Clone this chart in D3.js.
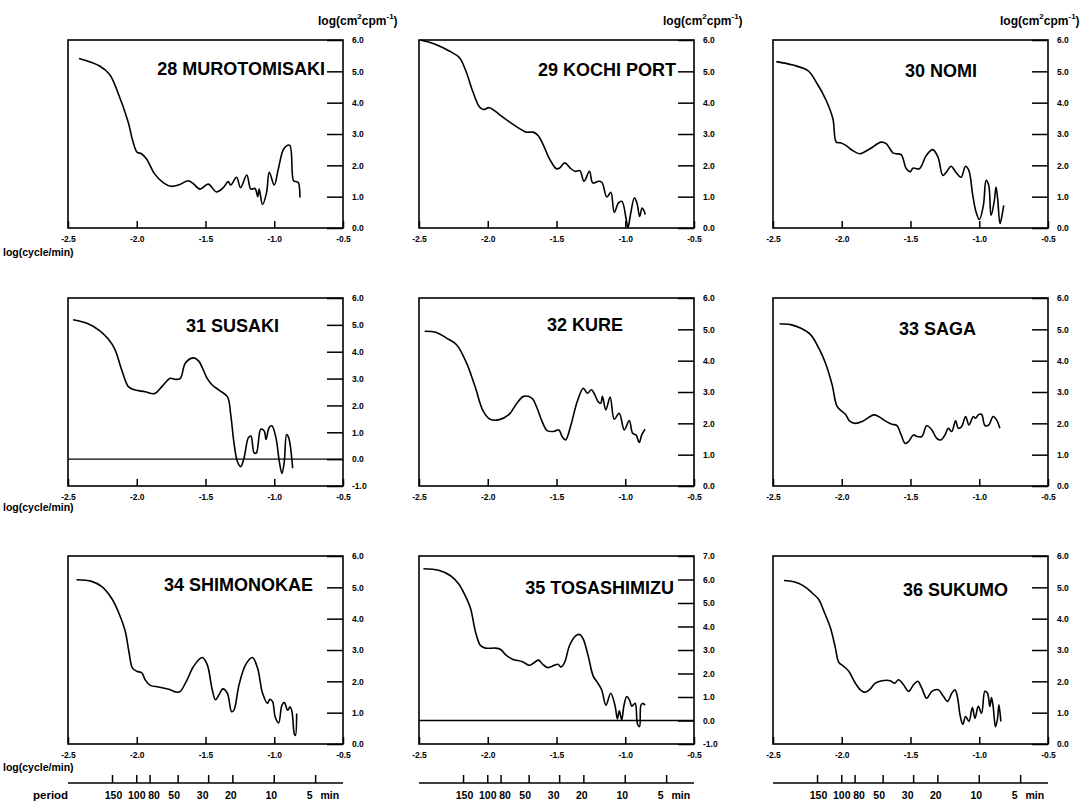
<!DOCTYPE html>
<html>
<head>
<meta charset="utf-8">
<script src="https://cdn.jsdelivr.net/npm/d3@7"></script>
<style>
body { margin: 0; background: #fff; }
svg text { font-family: "Liberation Sans", Arial, sans-serif; font-weight: bold; fill: #000; }
</style>
</head>
<body>
<div id="chart"></div>
<script>
const width = 1088;
const height = 802;

// station names and y ranges (log(cm^2 cpm^-1))
const stations = ["28 MUROTOMISAKI", "29 KOCHI PORT", "30 NOMI",
                  "31 SUSAKI", "32 KURE", "33 SAGA",
                  "34 SHIMONOKAE", "35 TOSASHIMIZU", "36 SUKUMO"];
const yDomains = [[0, 6], [0, 6], [0, 6],
                  [-1, 6], [0, 6], [0, 6],
                  [0, 6], [-1, 7], [0, 6]];
const xTicks = [-2.5, -2.0, -1.5, -1.0, -0.5];
const periods = [150, 100, 80, 50, 30, 20, 10, 5];

// spectra: [log(cycle/min), log(cm^2 cpm^-1)]
const curve28 = [[-2.42,5.41],[-2.27,5.17],[-2.197,4.9],[-2.136,4.31],[-2.063,3.39],[-2.027,2.75],[-1.998,2.42],[-1.966,2.37],[-1.93,2.21],[-1.869,1.72],[-1.808,1.45],[-1.748,1.33],[-1.687,1.39],[-1.626,1.51],[-1.59,1.42],[-1.54,1.24],[-1.48,1.4],[-1.42,1.15],[-1.37,1.29],[-1.335,1.48],[-1.316,1.37],[-1.274,1.62],[-1.245,1.29],[-1.2,1.69],[-1.17,1.24],[-1.14,1.26],[-1.12,1.0],[-1.11,1.24],[-1.085,0.75],[-1.056,1.13],[-1.036,1.78],[-1.0,1.37],[-0.97,1.89],[-0.93,2.53],[-0.888,2.64],[-0.86,1.51],[-0.84,1.48],[-0.825,1.45],[-0.813,0.97]];
const curve29 = [[-2.49,6.0],[-2.378,5.86],[-2.28,5.65],[-2.207,5.44],[-2.159,5.01],[-2.11,4.37],[-2.061,3.87],[-2.032,3.78],[-1.988,3.84],[-1.915,3.62],[-1.84,3.38],[-1.768,3.17],[-1.72,3.06],[-1.67,3.06],[-1.634,2.95],[-1.598,2.67],[-1.549,2.19],[-1.5,1.89],[-1.476,1.92],[-1.44,2.08],[-1.402,1.92],[-1.366,1.81],[-1.33,1.83],[-1.3,1.49],[-1.26,1.81],[-1.237,1.44],[-1.195,1.49],[-1.17,1.46],[-1.134,0.99],[-1.105,1.14],[-1.08,0.5],[-1.049,0.8],[-1.024,0.85],[-0.993,0.27],[-0.98,0.02],[-0.96,0.48],[-0.934,0.96],[-0.915,0.8],[-0.895,0.37],[-0.878,0.64],[-0.866,0.57],[-0.854,0.43]];
const curve30 = [[-2.476,5.31],[-2.355,5.2],[-2.246,5.02],[-2.185,4.65],[-2.113,4.07],[-2.064,3.48],[-2.04,2.74],[-2.01,2.72],[-1.967,2.63],[-1.92,2.47],[-1.87,2.37],[-1.798,2.52],[-1.713,2.74],[-1.677,2.69],[-1.628,2.4],[-1.604,2.37],[-1.568,2.34],[-1.53,1.89],[-1.5,1.8],[-1.483,1.91],[-1.435,1.89],[-1.386,2.31],[-1.338,2.5],[-1.3,2.26],[-1.265,1.68],[-1.24,1.78],[-1.205,1.97],[-1.17,1.78],[-1.132,1.62],[-1.1,1.97],[-1.076,1.84],[-1.047,1.04],[-1.023,0.51],[-0.999,0.27],[-0.97,0.72],[-0.95,1.52],[-0.931,1.36],[-0.914,0.4],[-0.89,0.88],[-0.878,1.31],[-0.866,0.93],[-0.849,0.14],[-0.83,0.51],[-0.822,0.72]];
const curve31 = [[-2.463,5.19],[-2.354,5.04],[-2.268,4.78],[-2.207,4.47],[-2.159,4.09],[-2.11,3.33],[-2.061,2.7],[-2.024,2.59],[-1.94,2.51],[-1.871,2.44],[-1.817,2.7],[-1.756,3.01],[-1.72,2.97],[-1.683,3.01],[-1.646,3.58],[-1.585,3.77],[-1.549,3.65],[-1.488,3.01],[-1.451,2.76],[-1.402,2.57],[-1.34,2.32],[-1.317,1.68],[-1.293,0.61],[-1.268,-0.09],[-1.244,-0.28],[-1.22,0.04],[-1.188,0.8],[-1.17,0.86],[-1.146,0.23],[-1.13,0.23],[-1.098,1.11],[-1.073,1.05],[-1.06,0.73],[-1.037,1.18],[-1.017,1.24],[-0.988,0.8],[-0.963,-0.09],[-0.944,-0.53],[-0.927,-0.09],[-0.91,0.92],[-0.895,0.8],[-0.866,-0.34]];
const curve32 = [[-2.459,4.94],[-2.373,4.9],[-2.3,4.72],[-2.227,4.51],[-2.154,3.92],[-2.093,3.18],[-2.032,2.38],[-1.983,2.13],[-1.922,2.11],[-1.849,2.27],[-1.788,2.64],[-1.739,2.86],[-1.678,2.8],[-1.641,2.48],[-1.605,2.06],[-1.568,1.77],[-1.52,1.74],[-1.483,1.79],[-1.459,1.58],[-1.434,1.47],[-1.398,1.9],[-1.349,2.7],[-1.305,3.12],[-1.276,2.96],[-1.246,3.07],[-1.227,2.96],[-1.198,2.7],[-1.178,2.64],[-1.166,2.86],[-1.141,2.43],[-1.11,2.84],[-1.08,2.13],[-1.044,2.32],[-1.007,1.79],[-0.971,2.09],[-0.946,1.68],[-0.922,1.63],[-0.898,1.39],[-0.88,1.63],[-0.856,1.81]];
const curve33 = [[-2.452,5.18],[-2.372,5.15],[-2.3,5.04],[-2.227,4.83],[-2.167,4.4],[-2.118,3.92],[-2.07,3.23],[-2.034,2.54],[-1.998,2.38],[-1.973,2.29],[-1.944,2.08],[-1.9,2.0],[-1.852,2.06],[-1.804,2.19],[-1.768,2.27],[-1.732,2.22],[-1.684,2.08],[-1.635,1.97],[-1.599,1.93],[-1.568,1.63],[-1.539,1.36],[-1.514,1.42],[-1.478,1.63],[-1.454,1.58],[-1.418,1.58],[-1.382,1.92],[-1.345,1.79],[-1.309,1.52],[-1.278,1.47],[-1.249,1.63],[-1.225,1.84],[-1.2,1.74],[-1.172,2.08],[-1.152,1.84],[-1.128,1.9],[-1.099,2.22],[-1.075,1.95],[-1.043,2.22],[-1.027,2.16],[-1.007,2.27],[-0.983,2.29],[-0.959,1.93],[-0.93,1.95],[-0.899,2.22],[-0.874,2.11],[-0.85,1.84]];
const curve34 = [[-2.439,5.24],[-2.329,5.19],[-2.256,5.03],[-2.183,4.65],[-2.134,4.22],[-2.085,3.62],[-2.056,2.92],[-2.032,2.43],[-2.0,2.32],[-1.963,2.27],[-1.939,2.05],[-1.902,1.87],[-1.841,1.82],[-1.768,1.75],[-1.707,1.65],[-1.683,1.68],[-1.634,2.05],[-1.585,2.49],[-1.524,2.76],[-1.488,2.54],[-1.451,1.73],[-1.427,1.41],[-1.402,1.57],[-1.373,1.76],[-1.341,1.62],[-1.31,1.03],[-1.293,1.08],[-1.256,1.89],[-1.207,2.54],[-1.159,2.76],[-1.122,2.43],[-1.085,1.62],[-1.049,1.3],[-1.032,1.43],[-1.012,1.35],[-0.993,0.86],[-0.968,0.67],[-0.944,1.24],[-0.927,1.32],[-0.902,1.08],[-0.885,1.19],[-0.871,1.03],[-0.854,0.32],[-0.846,0.27],[-0.837,0.97]];
const curve35 = [[-2.468,6.46],[-2.358,6.39],[-2.273,6.17],[-2.211,5.81],[-2.163,5.3],[-2.126,4.79],[-2.089,3.77],[-2.053,3.19],[-2.016,3.08],[-1.943,3.08],[-1.906,3.02],[-1.869,2.79],[-1.82,2.61],[-1.747,2.5],[-1.698,2.35],[-1.661,2.47],[-1.63,2.57],[-1.6,2.39],[-1.564,2.25],[-1.515,2.35],[-1.49,2.39],[-1.466,2.28],[-1.441,2.47],[-1.405,3.19],[-1.361,3.6],[-1.331,3.66],[-1.307,3.48],[-1.27,2.76],[-1.233,1.89],[-1.204,1.63],[-1.172,1.31],[-1.14,0.65],[-1.106,1.16],[-1.075,0.65],[-1.057,0.07],[-1.043,0.41],[-1.026,0.03],[-1.009,0.65],[-0.989,1.02],[-0.969,0.87],[-0.952,0.61],[-0.928,0.73],[-0.911,-0.15],[-0.896,-0.26],[-0.886,0.65],[-0.872,0.73],[-0.855,0.65]];
const curve36 = [[-2.42,5.22],[-2.348,5.18],[-2.275,5.04],[-2.215,4.82],[-2.167,4.61],[-2.13,4.24],[-2.082,3.7],[-2.046,3.06],[-2.022,2.61],[-1.986,2.48],[-1.949,2.32],[-1.901,1.94],[-1.865,1.73],[-1.829,1.65],[-1.792,1.76],[-1.756,1.94],[-1.708,2.02],[-1.647,2.02],[-1.616,1.94],[-1.587,2.05],[-1.551,1.89],[-1.514,1.68],[-1.478,1.89],[-1.447,2.0],[-1.418,1.78],[-1.382,1.46],[-1.345,1.68],[-1.297,1.73],[-1.261,1.52],[-1.23,1.36],[-1.2,1.62],[-1.176,1.73],[-1.157,1.46],[-1.14,0.93],[-1.12,0.63],[-1.099,0.88],[-1.075,0.72],[-1.05,1.16],[-1.031,0.82],[-1.007,1.2],[-0.983,0.98],[-0.959,1.68],[-0.94,1.62],[-0.923,1.2],[-0.911,1.48],[-0.899,1.2],[-0.882,0.55],[-0.867,0.82],[-0.857,1.25],[-0.843,0.72]];

const series = [curve28, curve29, curve30, curve31, curve32, curve33, curve34, curve35, curve36];

// layout
const colLeft = [68, 419, 773];
const rowTop = [40, 298, 556];
const boxW = 275, boxH = 188;
const titleRight = [18, 18, 71, 64, 71, 72, 30, 20, 40];
const titleDown = [35, 36, 37, 34, 33, 37, 35, 38, 40];
const unitShift = [-25, -31, -48];
const cycleLabelY = [256, 511, 771];

const svg = d3.select("#chart").append("svg")
    .attr("width", width)
    .attr("height", height);

svg.append("rect").attr("width", width).attr("height", height).attr("fill", "#fff");

const tickFmt = d => d.toFixed(1);

stations.forEach((name, i) => {
    const col = i % 3, row = Math.floor(i / 3);
    const left = colLeft[col], top = rowTop[row];
    const g = svg.append("g").attr("transform", `translate(${left}, ${top})`);

    const x = d3.scaleLinear().domain([-2.5, -0.5]).range([0, boxW]);
    const y = d3.scaleLinear().domain(yDomains[i]).range([boxH, 0]);

    // x axis, ticks pointing into the box
    const xa = g.append("g")
        .attr("transform", `translate(0, ${boxH})`)
        .call(d3.axisBottom(x).tickValues(xTicks).tickFormat(tickFmt)
            .tickSize(-7).tickSizeOuter(0).tickPadding(8));

    // y axis on the right, long inward ticks
    const yTicks = d3.range(yDomains[i][0], yDomains[i][1] + 0.5, 1);
    const ya = g.append("g")
        .attr("transform", `translate(${boxW}, 0)`)
        .call(d3.axisRight(y).tickValues(yTicks).tickFormat(tickFmt)
            .tickSize(-16).tickSizeOuter(0).tickPadding(9));

    [xa, ya].forEach(a => {
        a.select(".domain").remove();
        a.selectAll("line").attr("stroke", "#000").attr("stroke-width", 1.5);
        a.selectAll("text").attr("font-size", "8.5px").attr("font-family", null);
    });

    // zero line when the range goes negative
    if (yDomains[i][0] < 0) {
        g.append("line")
            .attr("x1", 0).attr("x2", boxW)
            .attr("y1", y(0)).attr("y2", y(0))
            .attr("stroke", "#000").attr("stroke-width", 1.3);
    }

    const line = d3.line()
        .x(d => x(d[0]))
        .y(d => y(d[1]))
        .curve(d3.curveCatmullRom.alpha(0.5));

    g.append("path")
        .datum(series[i])
        .attr("d", line)
        .attr("fill", "none")
        .attr("stroke", "#000")
        .attr("stroke-width", 1.6)
        .attr("stroke-linejoin", "round");

    g.append("rect")
        .attr("width", boxW).attr("height", boxH)
        .attr("fill", "none").attr("stroke", "#000").attr("stroke-width", 1.6);

    g.append("text")
        .attr("x", boxW - titleRight[i])
        .attr("y", titleDown[i])
        .attr("text-anchor", "end")
        .attr("font-size", "18px")
        .text(name);

    // unit label above the first row
    if (row === 0) {
        const t = g.append("text")
            .attr("x", boxW + unitShift[col])
            .attr("y", 25 - top)
            .attr("font-size", "12px");
        t.append("tspan").text("log(cm");
        t.append("tspan").attr("font-size", "8px").attr("dy", -6).text("2");
        t.append("tspan").attr("dy", 6).text("cpm");
        t.append("tspan").attr("font-size", "8px").attr("dy", -6).text("-1");
        t.append("tspan").attr("dy", 6).text(")");
    }

    // period axis under the bottom row
    if (row === 2) {
        const py = boxH + 39;
        const px = p => x(Math.log10(1 / p));
        const pg = g.append("g").attr("transform", `translate(0, ${py})`);
        pg.append("line").attr("x1", 0).attr("x2", boxW)
            .attr("stroke", "#000").attr("stroke-width", 1.5);
        pg.selectAll("line.tick").data(periods).enter().append("line")
            .attr("class", "tick")
            .attr("x1", px).attr("x2", px)
            .attr("y1", 0).attr("y2", -8)
            .attr("stroke", "#000").attr("stroke-width", 1.5);
        const labelDx = [1, 0, 4, -4, -6, -2, -3, -9];
        pg.selectAll("text").data(periods).enter().append("text")
            .attr("x", (d, k) => px(d) + labelDx[k])
            .attr("y", 16)
            .attr("text-anchor", (d, k) => k === periods.length - 1 ? "start" : "middle")
            .attr("font-size", "10.5px")
            .style("word-spacing", "5px")
            .text((d, k) => k === periods.length - 1 ? d + " min" : d);
        if (col === 0) {
            svg.append("text")
                .attr("x", 33).attr("y", top + py + 16)
                .attr("font-size", "11.5px")
                .text("period");
        }
    }

    if (col === 0) {
        svg.append("text")
            .attr("x", 3).attr("y", cycleLabelY[row])
            .attr("font-size", "10.5px")
            .text("log(cycle/min)");
    }
});
</script>
</body>
</html>
